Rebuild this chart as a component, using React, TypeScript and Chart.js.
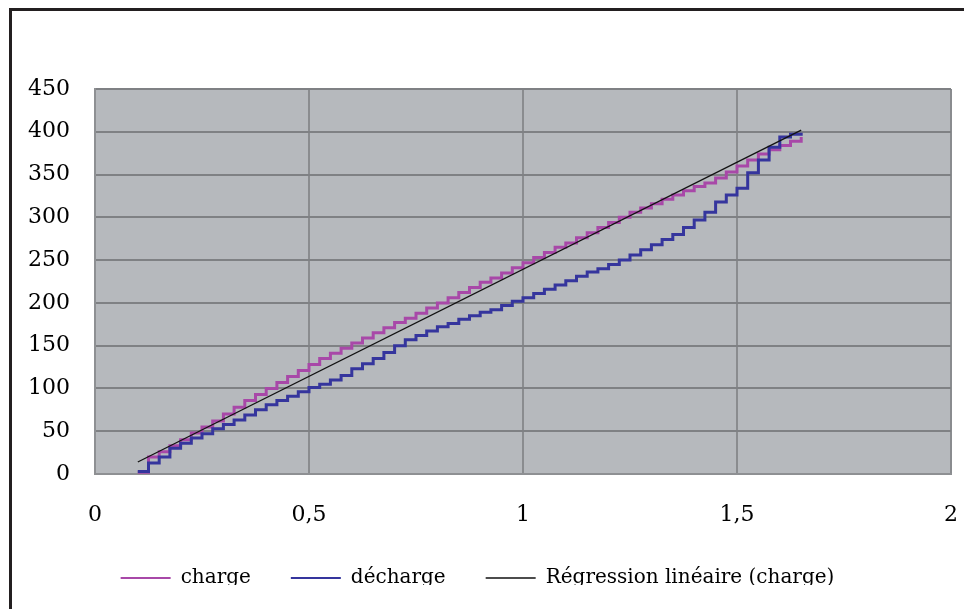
import React, { useEffect, useRef } from "react";
import { Chart, registerables } from "chart.js";

Chart.register(...registerables);

// step positions (x) shared by both measured series
const xSteps = [
  0.1, 0.125, 0.15, 0.175, 0.2, 0.225, 0.25, 0.275, 0.3, 0.325,
  0.35, 0.375, 0.4, 0.425, 0.45, 0.475, 0.5, 0.525, 0.55, 0.575,
  0.6, 0.625, 0.65, 0.675, 0.7, 0.725, 0.75, 0.775, 0.8, 0.825,
  0.85, 0.875, 0.9, 0.925, 0.95, 0.975, 1.0, 1.025, 1.05, 1.075,
  1.1, 1.125, 1.15, 1.175, 1.2, 1.225, 1.25, 1.275, 1.3, 1.325,
  1.35, 1.375, 1.4, 1.425, 1.45, 1.475, 1.5, 1.525, 1.55, 1.575,
  1.6, 1.625, 1.65,
];

const chargeY = [
  2, 20, 26, 33, 40, 48, 55, 62, 70, 78,
  86, 93, 100, 107, 114, 121, 128, 135, 141, 147,
  153, 159, 165, 171, 177, 182, 188, 194, 200, 206,
  212, 218, 224, 229, 235, 241, 247, 253, 259, 265,
  270, 276, 282, 288, 294, 300, 306, 311, 316, 321,
  326, 331, 336, 340, 346, 353, 360, 367, 374, 379,
  384, 389, 394,
];

const dechargeY = [
  3, 13, 20, 30, 36, 42, 47, 53, 58, 63,
  69, 75, 81, 86, 91, 96, 101, 105, 110, 115,
  123, 129, 135, 142, 150, 157, 162, 167, 172, 176,
  181, 185, 189, 192, 197, 202, 206, 211, 216, 221,
  226, 231, 236, 240, 245, 250, 256, 262, 268, 274,
  280, 288, 297, 306, 318, 326, 334, 352, 367, 382,
  394, 397, 399,
];

const regressionX = [0.1, 1.65];
const regressionY = [14, 402];

const seriesLabels = ["charge", "décharge", "Régression linéaire (charge)"];

const xMin = 0;
const xMax = 2;
const xStep = 0.5;
const yMin = 0;
const yMax = 450;
const yStep = 50;

const plotBg = {
  id: "plotBg",
  beforeDraw(chart: any) {
    const { ctx, chartArea } = chart;
    if (!chartArea) return;
    ctx.save();
    ctx.fillStyle = "#b6b9bd";
    ctx.fillRect(chartArea.left, chartArea.top, chartArea.width, chartArea.height);
    ctx.restore();
  },
};

export default function App() {
  const ref = useRef<HTMLCanvasElement | null>(null);

  useEffect(() => {
    if (!ref.current) return;
    const tickFont = { family: "'DejaVu Serif', serif", size: 22 };
    const chart = new Chart(ref.current, {
      type: "line",
      data: {
        datasets: [
          {
            label: seriesLabels[0],
            data: xSteps.map((x, i) => ({ x, y: chargeY[i] })),
            borderColor: "#a848a8",
            backgroundColor: "#a848a8",
            borderWidth: 3,
            stepped: true,
            pointRadius: 0,
            fill: false,
            order: 2,
          },
          {
            label: seriesLabels[1],
            data: xSteps.map((x, i) => ({ x, y: dechargeY[i] })),
            borderColor: "#35359d",
            backgroundColor: "#35359d",
            borderWidth: 3,
            stepped: true,
            pointRadius: 0,
            fill: false,
            order: 1,
          },
          {
            label: seriesLabels[2],
            data: regressionX.map((x, i) => ({ x, y: regressionY[i] })),
            borderColor: "#111111",
            backgroundColor: "#111111",
            borderWidth: 1.3,
            pointRadius: 0,
            fill: false,
            order: 0,
          },
        ],
      },
      options: {
        animation: false,
        responsive: false,
        devicePixelRatio: 1,
        layout: { padding: { top: 78, right: 13, bottom: 13, left: 0 } },
        scales: {
          x: {
            type: "linear",
            min: xMin,
            max: xMax,
            ticks: {
              stepSize: xStep,
              padding: 28,
              color: "#000",
              font: tickFont,
              maxRotation: 0,
              callback: (v: any) => String(v).replace(".", ","),
            },
            grid: { color: "#8a8c8f", lineWidth: 2, drawTicks: false },
            border: { color: "#8e9093", width: 2 },
            afterFit: (s: any) => {
              s.height = 54;
              s.paddingLeft = 0;
              s.paddingRight = 0;
            },
          },
          y: {
            min: yMin,
            max: yMax,
            ticks: { stepSize: yStep, padding: 25, color: "#000", font: tickFont },
            grid: { color: "#7f8184", lineWidth: 2, drawTicks: false },
            border: { color: "#8e9093", width: 2 },
            afterFit: (s: any) => {
              s.width = 91;
            },
          },
        },
        plugins: {
          tooltip: { enabled: false },
          legend: {
            position: "bottom",
            labels: {
              usePointStyle: true,
              pointStyle: "line",
              pointStyleWidth: 50,
              padding: 40,
              color: "#000",
              font: { family: "'DejaVu Serif', serif", size: 20 },
              generateLabels: (c: any) =>
                Chart.defaults.plugins.legend.labels
                  .generateLabels(c)
                  .map((it: any) => ({
                    ...it,
                    pointStyle: "line",
                    lineWidth: it.datasetIndex === 2 ? 1.5 : 2,
                  }))
                  .sort((a: any, b: any) => a.datasetIndex - b.datasetIndex),
            },
          },
        },
      },
      plugins: [plotBg],
    });
    return () => chart.destroy();
  }, []);

  return (
    <div
      style={{
        position: "fixed",
        left: 0,
        top: 0,
        width: 964,
        height: 609,
        background: "#fff",
        overflow: "hidden",
      }}
    >
      <div style={{ position: "absolute", left: 9, top: 8, width: 955, height: 3, background: "#231f20" }} />
      <div style={{ position: "absolute", left: 9, top: 8, width: 3, height: 601, background: "#231f20" }} />
      <div style={{ position: "absolute", left: 12, top: 11, width: 952, height: 574, overflow: "hidden" }}>
        <canvas
          ref={ref}
          width={960}
          height={600}
          style={{ display: "block", width: 960, height: 600, marginLeft: -8 }}
        />
      </div>
    </div>
  );
}
